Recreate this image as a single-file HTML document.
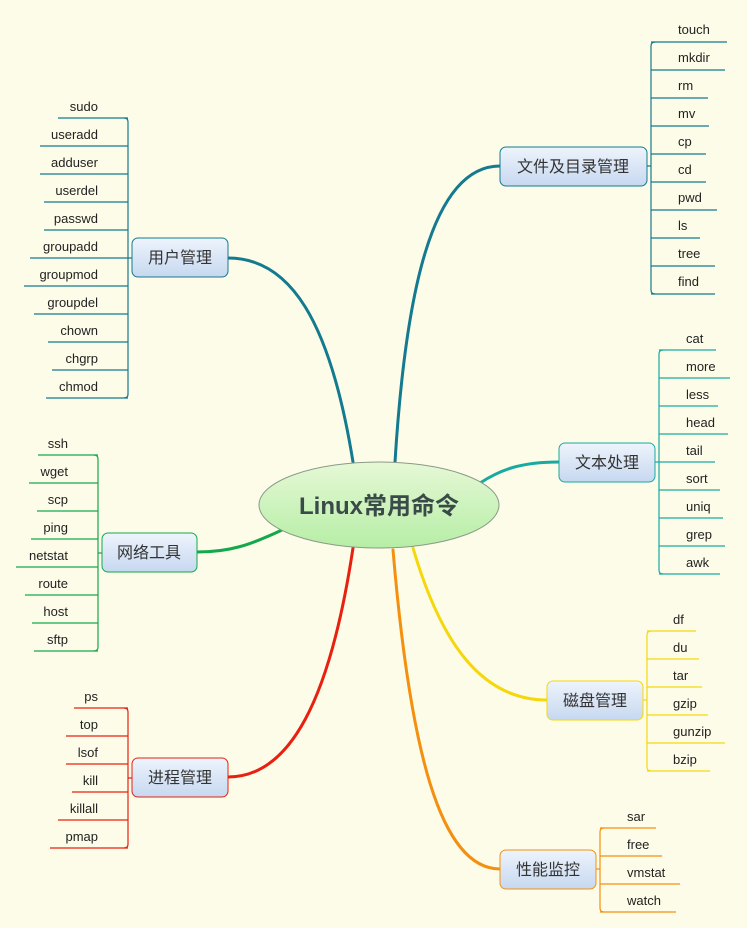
<!DOCTYPE html>
<html><head><meta charset="utf-8"><style>
body{margin:0;background:#fdfce8}
svg{display:block}
text{font-family:"Liberation Sans","Noto Sans CJK SC",sans-serif;font-size:13px;fill:#222}
.n{font-size:16px;fill:#333}
</style></head><body>
<svg width="747" height="928" viewBox="0 0 747 928">
<defs>
<linearGradient id="nb" x1="0" y1="0" x2="0" y2="1"><stop offset="0" stop-color="#eef4fc"/><stop offset="1" stop-color="#c6d8f0"/></linearGradient>
<linearGradient id="cg" x1="0" y1="0" x2="0" y2="1"><stop offset="0" stop-color="#e6f8d6"/><stop offset="1" stop-color="#b6eea6"/></linearGradient>
</defs>
<rect width="747" height="928" fill="#fdfce8"/>
<g fill="none" stroke-linecap="round">
<path d="M395,462 C405,300 430,166 500,166" stroke="#137a90" stroke-width="3"/>
<path d="M353,462 C330,320 290,258 228,258" stroke="#137a90" stroke-width="3"/>
<path d="M282,530 C250,545 230,552 197,552" stroke="#14a84c" stroke-width="3"/>
<path d="M353,548 C330,700 290,777 228,777" stroke="#e82010" stroke-width="3"/>
<path d="M480,483 C500,470 520,462 559,462" stroke="#18aaa0" stroke-width="3"/>
<path d="M413,548 C440,640 480,700 547,700" stroke="#f4d80c" stroke-width="3"/>
<path d="M393,550 C410,750 440,869 500,869" stroke="#f49010" stroke-width="3"/>
</g>
<ellipse cx="379" cy="505" rx="120" ry="43" fill="url(#cg)" stroke="#8a9a88" stroke-width="1"/>
<text x="379" y="514" text-anchor="middle" style="font-size:24px;font-weight:bold;fill:#3a4a48">Linux常用命令</text>

<!-- 文件及目录管理 -->
<g fill="none" stroke="#137a90" stroke-width="1.2">
<path d="M647,166 H651 M655,42 Q651,42 651,46 V290 Q651,294 655,294"/>
<path d="M651,42H727M651,70H725M651,98H708M651,126H709M651,154H706M651,182H706M651,210H717M651,238H700M651,266H715M651,294H715"/>
</g>
<rect x="500" y="147" width="147" height="39" rx="6" fill="url(#nb)" stroke="#137a90"/>
<text class="n" x="573" y="172" text-anchor="middle">文件及目录管理</text>
<g><text x="678" y="34">touch</text><text x="678" y="62">mkdir</text><text x="678" y="90">rm</text><text x="678" y="118">mv</text><text x="678" y="146">cp</text><text x="678" y="174">cd</text><text x="678" y="202">pwd</text><text x="678" y="230">ls</text><text x="678" y="258">tree</text><text x="678" y="286">find</text></g>

<!-- 用户管理 -->
<g fill="none" stroke="#137a90" stroke-width="1.2">
<path d="M132,258 H128 M124,118 Q128,118 128,122 V394 Q128,398 124,398"/>
<path d="M58,118H128M40,146H128M40,174H128M44,202H128M44,230H128M30,258H128M24,286H128M34,314H128M48,342H128M52,370H128M46,398H128"/>
</g>
<rect x="132" y="238" width="96" height="39" rx="6" fill="url(#nb)" stroke="#137a90"/>
<text class="n" x="180" y="263" text-anchor="middle">用户管理</text>
<g text-anchor="end"><text x="98" y="111">sudo</text><text x="98" y="139">useradd</text><text x="98" y="167">adduser</text><text x="98" y="195">userdel</text><text x="98" y="223">passwd</text><text x="98" y="251">groupadd</text><text x="98" y="279">groupmod</text><text x="98" y="307">groupdel</text><text x="98" y="335">chown</text><text x="98" y="363">chgrp</text><text x="98" y="391">chmod</text></g>

<!-- 网络工具 -->
<g fill="none" stroke="#14a84c" stroke-width="1.2">
<path d="M102,553 H98 M94,455 Q98,455 98,459 V647 Q98,651 94,651"/>
<path d="M38,455H98M29,483H98M37,511H98M31,539H98M16,567H98M25,595H98M32,623H98M34,651H98"/>
</g>
<rect x="102" y="533" width="95" height="39" rx="6" fill="url(#nb)" stroke="#14a84c"/>
<text class="n" x="149" y="558" text-anchor="middle">网络工具</text>
<g text-anchor="end"><text x="68" y="448">ssh</text><text x="68" y="476">wget</text><text x="68" y="504">scp</text><text x="68" y="532">ping</text><text x="68" y="560">netstat</text><text x="68" y="588">route</text><text x="68" y="616">host</text><text x="68" y="644">sftp</text></g>

<!-- 进程管理 -->
<g fill="none" stroke="#e82010" stroke-width="1.2">
<path d="M132,778 H128 M124,708 Q128,708 128,712 V844 Q128,848 124,848"/>
<path d="M74,708H128M66,736H128M66,764H128M72,792H128M58,820H128M50,848H128"/>
</g>
<rect x="132" y="758" width="96" height="39" rx="6" fill="url(#nb)" stroke="#e82010"/>
<text class="n" x="180" y="783" text-anchor="middle">进程管理</text>
<g text-anchor="end"><text x="98" y="701">ps</text><text x="98" y="729">top</text><text x="98" y="757">lsof</text><text x="98" y="785">kill</text><text x="98" y="813">killall</text><text x="98" y="841">pmap</text></g>

<!-- 文本处理 -->
<g fill="none" stroke="#18aaa0" stroke-width="1.2">
<path d="M655,462 H659 M663,350 Q659,350 659,354 V570 Q659,574 663,574"/>
<path d="M659,350H716M659,378H730M659,406H718M659,434H728M659,462H715M659,490H720M659,518H723M659,546H725M659,574H720"/>
</g>
<rect x="559" y="443" width="96" height="39" rx="6" fill="url(#nb)" stroke="#18aaa0"/>
<text class="n" x="607" y="468" text-anchor="middle">文本处理</text>
<g><text x="686" y="343">cat</text><text x="686" y="371">more</text><text x="686" y="399">less</text><text x="686" y="427">head</text><text x="686" y="455">tail</text><text x="686" y="483">sort</text><text x="686" y="511">uniq</text><text x="686" y="539">grep</text><text x="686" y="567">awk</text></g>

<!-- 磁盘管理 -->
<g fill="none" stroke="#f4d80c" stroke-width="1.2">
<path d="M643,700 H647 M651,631 Q647,631 647,635 V767 Q647,771 651,771"/>
<path d="M647,631H696M647,659H699M647,687H702M647,715H708M647,743H725M647,771H710"/>
</g>
<rect x="547" y="681" width="96" height="39" rx="6" fill="url(#nb)" stroke="#f4d80c"/>
<text class="n" x="595" y="706" text-anchor="middle">磁盘管理</text>
<g><text x="673" y="624">df</text><text x="673" y="652">du</text><text x="673" y="680">tar</text><text x="673" y="708">gzip</text><text x="673" y="736">gunzip</text><text x="673" y="764">bzip</text></g>

<!-- 性能监控 -->
<g fill="none" stroke="#f49010" stroke-width="1.2">
<path d="M596,869 H600 M604,828 Q600,828 600,832 V908 Q600,912 604,912"/>
<path d="M600,828H656M600,856H662M600,884H680M600,912H676"/>
</g>
<rect x="500" y="850" width="96" height="39" rx="6" fill="url(#nb)" stroke="#f49010"/>
<text class="n" x="548" y="875" text-anchor="middle">性能监控</text>
<g><text x="627" y="821">sar</text><text x="627" y="849">free</text><text x="627" y="877">vmstat</text><text x="627" y="905">watch</text></g>
</svg>
</body></html>
